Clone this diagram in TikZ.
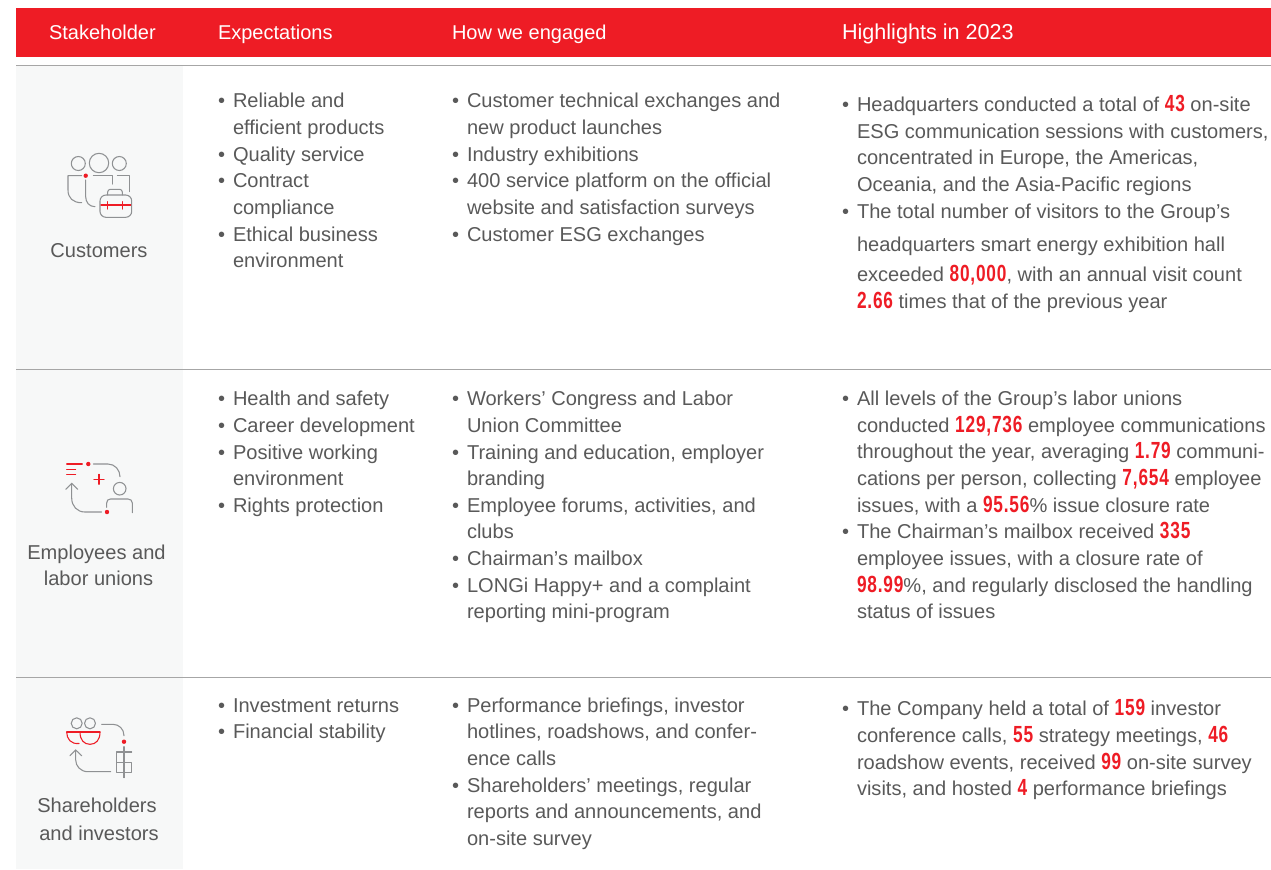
\documentclass[tikz,border=0pt]{standalone}
\usepackage{fontspec}
\setmainfont{Liberation Sans}
\newfontfamily\numf[FakeStretch=0.74,LetterSpace=3.5]{Liberation Sans Bold}
\definecolor{brand}{HTML}{EE1C25}
\definecolor{body}{HTML}{595959}
\definecolor{panel}{HTML}{F7F8F8}
\definecolor{icon}{HTML}{8F9193}
\definecolor{rule}{HTML}{A6A6A6}
\newcounter{tlc}
\newcommand{\nm}[1]{{\numf\fontsize{17.5pt}{17.5pt}\selectfont\textcolor{brand}{#1}}}
\newcommand{\txtline}[3]{\stepcounter{tlc}\node[txt] (t\arabic{tlc}) at (#1,#2) {#3};}
\newcommand{\bul}[2]{\stepcounter{tlc}\node[txt] (t\arabic{tlc}) at (#1,#2) {•};}
\newcommand{\ctr}[3]{\stepcounter{tlc}\node[txt,anchor=base] (t\arabic{tlc}) at (#1,#2) {#3};}
\tikzset{
  txt/.style={anchor=base west,inner sep=0pt,outer sep=0pt,text=body,yshift=-1.2pt,font=\fontsize{15.05pt}{17pt}\selectfont},
  head/.style={anchor=base west,inner sep=0pt,outer sep=0pt,text=white,yshift=-1.2pt,font=\fontsize{15pt}{17pt}\selectfont},
  ic/.style={draw=icon,line width=0.8pt,line cap=round,line join=round},
  icr/.style={draw=brand,line width=0.8pt,line cap=round,line join=round},
  dotr/.style={fill=brand,draw=none},
}
\begin{document}
\begin{tikzpicture}[x=0.75pt,y=-0.75pt]
\useasboundingbox (0,0) rectangle (1271,869);
% header
\fill[brand] (16,8) rectangle (1271,57);
\node[head] (h1) at (49,38) {Stakeholder};
\node[head] (h2) at (218,38) {Expectations};
\node[head] (h3) at (452,38) {How we engaged};
\node[head,font=\fontsize{16.2pt}{17pt}\selectfont] (h4) at (842,38) {Highlights in 2023};
% panels
\fill[panel] (16,66) rectangle (183,369);
\fill[panel] (16,370) rectangle (183,677);
\fill[panel] (16,678) rectangle (183,869);
% rules
\draw[rule,line width=0.7pt] (16,65.5) -- (1271,65.5);
\draw[rule,line width=0.7pt] (16,369.5) -- (1271,369.5);
\draw[rule,line width=0.7pt] (16,677.5) -- (1271,677.5);
% left column labels
\ctr{99}{256}{Customers}
\ctr{96.5}{558}{Employees and}
\ctr{98.5}{584}{labor unions}
\ctr{97}{811}{Shareholders}
\ctr{99}{839}{and investors}
% Expectations
\bul{218}{106}{} \txtline{233}{106}{Reliable and}
\txtline{233}{133}{efficient products}
\bul{218}{160}{} \txtline{233}{160}{Quality service}
\bul{218}{186}{} \txtline{233}{186}{Contract}
\txtline{233}{213}{compliance}
\bul{218}{240}{} \txtline{233}{240}{Ethical business}
\txtline{233}{266}{environment}
\bul{218}{404}{} \txtline{233}{404}{Health and safety}
\bul{218}{431}{} \txtline{233}{431}{Career development}
\bul{218}{458}{} \txtline{233}{458}{Positive working}
\txtline{233}{484}{environment}
\bul{218}{511}{} \txtline{233}{511}{Rights protection}
\bul{218}{711}{} \txtline{233}{711}{Investment returns}
\bul{218}{737}{} \txtline{233}{737}{Financial stability}
% Engagement
\bul{452}{106}{} \txtline{467}{106}{Customer technical exchanges and}
\txtline{467}{133}{new product launches}
\bul{452}{160}{} \txtline{467}{160}{Industry exhibitions}
\bul{452}{186}{} \txtline{467}{186}{400 service platform on the official}
\txtline{467}{213}{website and satisfaction surveys}
\bul{452}{240}{} \txtline{467}{240}{Customer ESG exchanges}
\bul{452}{404}{} \txtline{467}{404}{Workers’ Congress and Labor}
\txtline{467}{431}{Union Committee}
\bul{452}{458}{} \txtline{467}{458}{Training and education, employer}
\txtline{467}{484}{branding}
\bul{452}{511}{} \txtline{467}{511}{Employee forums, activities, and}
\txtline{467}{537}{clubs}
\bul{452}{564}{} \txtline{467}{564}{Chairman’s mailbox}
\bul{452}{591}{} \txtline{467}{591}{LONGi Happy+ and a complaint}
\txtline{467}{617}{reporting mini-program}
\bul{452}{711}{} \txtline{467}{711}{Performance briefings, investor}
\txtline{467}{737}{hotlines, roadshows, and confer-}
\txtline{467}{764}{ence calls}
\bul{452}{791}{} \txtline{467}{791}{Shareholders’ meetings, regular}
\txtline{467}{817}{reports and announcements, and}
\txtline{467}{844}{on-site survey}
% Highlights
\bul{842}{110}{} \txtline{857}{110}{Headquarters conducted a total of \nm{43} on-site}
\txtline{857}{137}{ESG communication sessions with customers,}
\txtline{857}{163}{concentrated in Europe, the Americas,}
\txtline{857}{190}{Oceania, and the Asia-Pacific regions}
\bul{842}{217}{} \txtline{857}{217}{The total number of visitors to the Group’s}
\txtline{857}{250}{headquarters smart energy exhibition hall}
\txtline{857}{280}{exceeded \nm{80,000}, with an annual visit count}
\txtline{857}{307}{\nm{2.66} times that of the previous year}
\bul{842}{404}{} \txtline{857}{404}{All levels of the Group’s labor unions}
\txtline{857}{431}{conducted \nm{129,736} employee communications}
\txtline{857}{457}{throughout the year, averaging \nm{1.79} communi-}
\txtline{857}{484}{cations per person, collecting \nm{7,654} employee}
\txtline{857}{511}{issues, with a \nm{95.56}\% issue closure rate}
\bul{842}{537}{} \txtline{857}{537}{The Chairman’s mailbox received \nm{335}}
\txtline{857}{564}{employee issues, with a closure rate of}
\txtline{857}{591}{\nm{98.99}\%, and regularly disclosed the handling}
\txtline{857}{617}{status of issues}
\bul{842}{714}{} \txtline{857}{714}{The Company held a total of \nm{159} investor}
\txtline{857}{741}{conference calls, \nm{55} strategy meetings, \nm{46}}
\txtline{857}{768}{roadshow events, received \nm{99} on-site survey}
\txtline{857}{794}{visits, and hosted \nm{4} performance briefings}
% Customers icon
\draw[ic] (78.3,163.5) circle[radius=7];
\draw[ic] (99,163) circle[radius=9.7];
\draw[ic] (119.3,163.5) circle[radius=7];
\draw[ic] (81.7,175.7) -- (68,175.7) -- (68,190) .. controls (68,198) and (73,202.7) .. (81.7,202.7);
\draw[ic] (85.7,180) -- (85.7,196.7) .. controls (85.7,202) and (89,206.7) .. (95,206.7);
\draw[ic] (93.3,175.7) -- (112.3,175.7) -- (112.3,184);
\draw[ic] (117.3,175.7) -- (129.3,175.7) -- (129.3,191.7);
\draw[ic,rounded corners=4.5pt] (100,195) rectangle (131.7,217.3);
\draw[ic,rounded corners=2pt] (107.7,195) -- (107.7,189.3) -- (122.3,189.3) -- (122.3,195);
\draw[icr] (101,205) -- (130.7,205) (107.7,201.7) -- (107.7,209) (122.3,201.7) -- (122.3,209);
\fill[dotr] (85.7,175.7) circle[radius=2.2];
% Employees icon
\draw[icr] (66.7,464) -- (82.3,464) (66.7,469.3) -- (75.7,469.3) (66.7,474.7) -- (75.7,474.7);
\fill[dotr] (88.3,464) circle[radius=2.2];
\draw[ic] (93.3,464) -- (108,464) .. controls (115,464) and (120,470) .. (120,476.7);
\draw[icr] (94,479.3) -- (104,479.3) (99,474.3) -- (99,484.3);
\draw[ic] (119.7,488.7) circle[radius=6.3];
\draw[ic] (106.7,507.3) -- (106.7,503) .. controls (106.7,500.5) and (108,499) .. (110.5,499) -- (128,499) .. controls (130.5,499) and (132.3,500.5) .. (132.3,503) -- (132.3,512.7);
\fill[dotr] (107,512) circle[radius=2.2];
\draw[ic] (101.7,512) -- (85,512) .. controls (77,512) and (71.7,506) .. (71.7,498) -- (71.7,483.3);
\draw[ic] (65.7,489.3) -- (71.7,483.3) -- (77.7,489.3);
% Shareholders icon
\draw[ic] (76.7,723.3) circle[radius=5.5];
\draw[ic] (90,723.3) circle[radius=5.5];
\draw[icr] (66.7,732) -- (100,732);
\draw[icr] (66.7,732) .. controls (66.7,739) and (71,744.3) .. (79,743.5);
\draw[icr] (80,732) .. controls (80,740) and (84,744.3) .. (90,744.3) .. controls (96,744.3) and (100,740) .. (100,732);
\draw[ic] (101.7,724.3) -- (113,724.3) .. controls (119,724.3) and (124,729) .. (124,735.7);
\fill[dotr] (124,741.7) circle[radius=2.2];
\draw[ic] (124,746.7) -- (124,777.7);
\draw[ic] (131.7,752) -- (116.7,752) -- (116.7,772.7) -- (131.7,772.7) -- (131.7,762.3) -- (116.7,762.3);
\draw[ic] (110.7,771.7) -- (88,771.7) .. controls (80.5,771.7) and (75.7,766) .. (75.7,760) -- (75.7,750);
\draw[ic] (70,755.7) -- (75.7,750) -- (81.7,755.7);
\end{tikzpicture}
\end{document}
